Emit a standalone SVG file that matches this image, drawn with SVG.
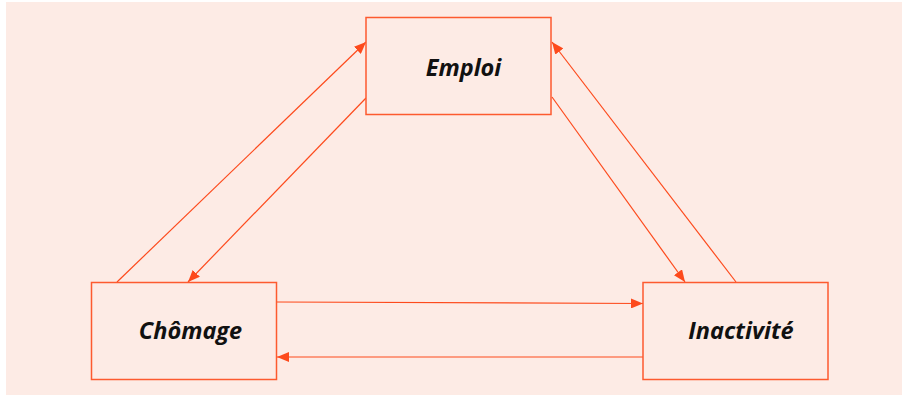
<svg xmlns="http://www.w3.org/2000/svg" width="902" height="395" viewBox="0 0 902 395">
  <style>
    .box { fill: #fdebe5; stroke: #fd5a2f; stroke-width: 1.5; }
    .lbl { font-family: "Open Sans", "Noto Sans", "DejaVu Sans", sans-serif; font-size: 23.5px; font-style: italic; font-weight: 700; fill: #111; text-anchor: middle; }
    .edge { stroke: #fd4a1c; stroke-width: 1.2; fill: none; marker-end: url(#arrow); }
  </style>
  <defs>
    <marker id="arrow" viewBox="0 0 12 10" refX="12" refY="5" markerWidth="12" markerHeight="10" markerUnits="userSpaceOnUse" orient="auto">
      <path d="M0,0 L12,5 L0,10 Z" fill="#fd4a1c"/>
    </marker>
  </defs>
  <rect x="0" y="0" width="902" height="395" fill="#ffffff"/>
  <rect x="6" y="2" width="896" height="393" fill="#fdebe5"/>

  <g id="connectors">
    <line class="edge" x1="117" y1="282" x2="366" y2="42"/>
    <line class="edge" x1="366" y1="98" x2="188" y2="282"/>
    <line class="edge" x1="552" y1="97" x2="685" y2="282"/>
    <line class="edge" x1="736" y1="282" x2="552" y2="42"/>
    <line class="edge" x1="277" y1="302" x2="643" y2="303.5"/>
    <line class="edge" x1="643" y1="357" x2="277" y2="357"/>
  </g>

  <g id="emploi">
    <rect class="box" x="366" y="17.5" width="185" height="97"/>
    <text class="lbl" x="463.5" y="75.5">Emploi</text>
  </g>
  <g id="chomage">
    <rect class="box" x="91.5" y="282.5" width="185" height="97"/>
    <text class="lbl" x="190.5" y="338.5">Chômage</text>
  </g>
  <g id="inactivite">
    <rect class="box" x="643" y="282.5" width="185" height="97"/>
    <text class="lbl" x="741" y="338.5">Inactivité</text>
  </g>
</svg>
